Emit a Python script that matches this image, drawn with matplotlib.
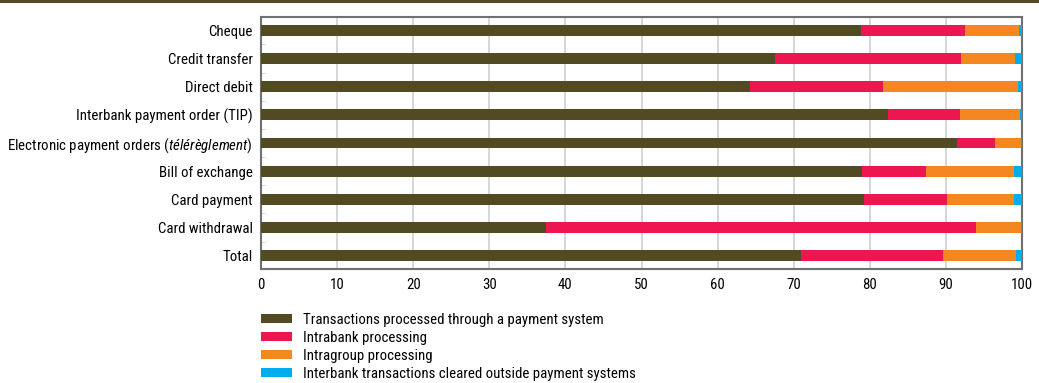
import matplotlib
matplotlib.use("Agg")
import matplotlib.pyplot as plt
from matplotlib import font_manager
from matplotlib.patches import Rectangle
import numpy as np

names = {f.name for f in font_manager.fontManager.ttflist}
fam = next((n for n in ["Roboto Condensed", "Archivo Narrow", "PT Sans Narrow",
                        "Barlow Semi Condensed", "Liberation Sans"] if n in names), "DejaVu Sans")
plt.rcParams['font.family'] = [fam, 'DejaVu Sans']
plt.rcParams['mathtext.fontset'] = 'custom'
plt.rcParams['mathtext.rm'] = fam
plt.rcParams['mathtext.it'] = fam + ':italic'

categories = ["Cheque", "Credit transfer", "Direct debit",
              "Interbank payment order (TIP)",
              "Electronic payment orders (" + r"$\it{télérèglement}$" + ")",
              "Bill of exchange", "Card payment", "Card withdrawal", "Total"]
payment_system = [78.9, 67.5, 64.3, 82.4, 91.5, 79.0, 79.3, 37.5, 71.0]
intrabank = [13.6, 24.5, 17.5, 9.5, 4.9, 8.4, 10.8, 56.5, 18.6]
intragroup = [7.1, 7.1, 17.7, 7.9, 3.5, 11.5, 8.8, 5.9, 9.6]
interbank_outside = [0.4, 0.9, 0.5, 0.2, 0.1, 1.1, 1.1, 0.1, 0.8]
series_names = ["Transactions processed through a payment system",
                "Intrabank processing", "Intragroup processing",
                "Interbank transactions cleared outside payment systems"]
xticks = [0, 10, 20, 30, 40, 50, 60, 70, 80, 90, 100]

colors = ["#524a22", "#ee1651", "#f58720", "#00aeef"]
FS = 10.7

fig = plt.figure(figsize=(10.39, 3.83), dpi=100)
ax = fig.add_axes([261/1039, 1-269/383, (1022-261)/1039, (269-16.7)/383])

y = np.arange(len(categories))
left = np.zeros(len(categories))
for vals, c, nm in zip([payment_system, intrabank, intragroup, interbank_outside], colors, series_names):
    ax.barh(y, vals, left=left, height=0.38, color=c, label=nm, zorder=3)
    left += np.array(vals)

ax.set_xlim(0, 100)
ax.set_ylim(8.47, -0.48)
ax.set_yticks(y)
ax.set_yticklabels(categories, fontsize=FS)
ax.set_yticks(y[:-1] + 0.5, minor=True)
ax.tick_params(axis='y', which='major', length=0, pad=6)
ax.tick_params(axis='y', which='minor', length=3, direction='in', color='#cccccc')
ax.set_xticks(xticks)
ax.set_xticklabels([str(v) for v in xticks], fontsize=FS)
ax.tick_params(axis='x', length=0, pad=6.5)
ax.grid(axis='x', color='#d0d0d0', linewidth=1.2, zorder=0)
for s in ax.spines.values():
    s.set_color('#707070')
    s.set_linewidth(1.5)

handles, labels = ax.get_legend_handles_labels()
leg = fig.legend(handles, labels, loc='upper left', bbox_to_anchor=(260.5/1039, 1-313/383),
                 frameon=False, fontsize=FS, handlelength=2.15, handleheight=0.6,
                 labelspacing=0.26, handletextpad=0.71, borderaxespad=0, borderpad=0)

fig.add_artist(Rectangle((0, 1-2.5/383), 1, 2.5/383, transform=fig.transFigure,
                         color="#524a22", lw=0))

fig.savefig("out.png", dpi=100)
